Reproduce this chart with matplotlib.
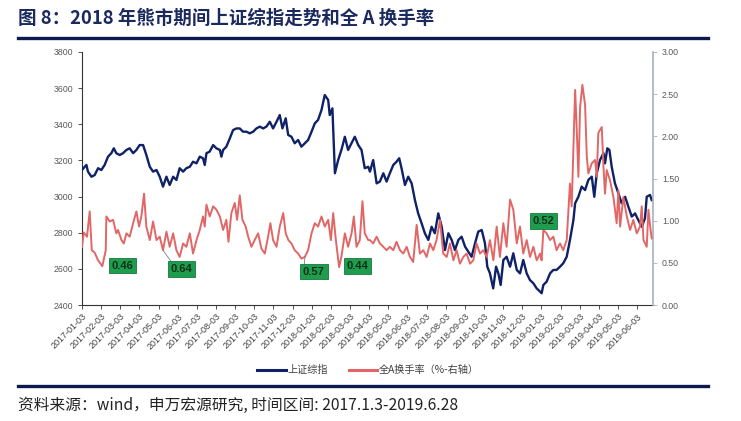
"""Recreate: 2018 bear market - SSE Composite vs all-A turnover."""

import matplotlib

matplotlib.use("Agg")
import matplotlib.pyplot as plt  # noqa: E402
from matplotlib.lines import Line2D  # noqa: E402

plt.rcParams["font.family"] = ["Liberation Sans", "Noto Sans CJK SC", "DejaVu Sans"]
CJK = ["Noto Sans CJK SC", "DejaVu Sans"]

NAVY = "#0f2167"
RED = "#e26666"
GREEN = "#1f9d4f"

TITLE = "图 8：2018 年熊市期间上证综指走势和全 A 换手率"
SOURCE = "资料来源：wind，申万宏源研究, 时间区间: 2017.1.3-2019.6.28"

# x values are months since 2017-01-03
TICK_LABELS = [
    "2017-01-03", "2017-02-03", "2017-03-03", "2017-04-03", "2017-05-03",
    "2017-06-03", "2017-07-03", "2017-08-03", "2017-09-03", "2017-10-03",
    "2017-11-03", "2017-12-03", "2018-01-03", "2018-02-03", "2018-03-03",
    "2018-04-03", "2018-05-03", "2018-06-03", "2018-07-03", "2018-08-03",
    "2018-09-03", "2018-10-03", "2018-11-03", "2018-12-03", "2019-01-03",
    "2019-02-03", "2019-03-03", "2019-04-03", "2019-05-03", "2019-06-03",
]

# 上证综指 (left axis)
sh_x = [
    0.00, 0.14, 0.23, 0.31, 0.49, 0.66, 0.84, 1.01, 1.18, 1.36, 1.53, 1.66,
    1.79, 1.97, 2.14, 2.32, 2.49, 2.67, 2.84, 3.01, 3.19, 3.36, 3.54, 3.71,
    3.89, 4.06, 4.23, 4.41, 4.58, 4.76, 4.93, 5.10, 5.28, 5.45, 5.63, 5.80,
    5.98, 6.15, 6.32, 6.41, 6.50, 6.67, 6.85, 7.02, 7.20, 7.28, 7.37, 7.54,
    7.72, 7.89, 8.07, 8.24, 8.41, 8.59, 8.76, 8.94, 9.11, 9.29, 9.46, 9.63,
    9.81, 9.98, 10.16, 10.33, 10.47, 10.64, 10.77, 10.94, 11.11, 11.29, 11.46,
    11.64, 11.81, 11.99, 12.16, 12.33, 12.51, 12.68, 12.86, 12.94, 13.08,
    13.21, 13.38, 13.55, 13.73, 13.90, 14.08, 14.25, 14.43, 14.60, 14.77,
    14.95, 15.04, 15.21, 15.39, 15.56, 15.74, 15.91, 16.08, 16.26, 16.43,
    16.57, 16.69, 16.87, 17.04, 17.22, 17.39, 17.56, 17.74, 17.91, 18.09,
    18.26, 18.43, 18.61, 18.79, 18.96, 19.14, 19.31, 19.48, 19.66, 19.83,
    20.01, 20.18, 20.35, 20.53, 20.70, 20.88, 21.05, 21.17, 21.31, 21.48,
    21.63, 21.75, 21.87, 22.01, 22.18, 22.36, 22.53, 22.71, 22.88, 23.05,
    23.23, 23.40, 23.58, 23.75, 23.93, 24.01, 24.10, 24.27, 24.45, 24.62,
    24.79, 24.97, 25.14, 25.32, 25.49, 25.67, 25.76, 25.93, 26.10, 26.28,
    26.45, 26.63, 26.76, 26.89, 27.06, 27.24, 27.32, 27.44, 27.55, 27.67,
    27.84, 28.02, 28.19, 28.37, 28.54, 28.72, 28.89, 29.06, 29.24, 29.41,
    29.50, 29.67, 29.76,
]
sh_val = [
    3147, 3165, 3175, 3138, 3110, 3119, 3157, 3147, 3175, 3221, 3240, 3267,
    3240, 3230, 3240, 3258, 3267, 3240, 3258, 3285, 3285, 3230, 3165, 3138,
    3147, 3110, 3055, 3110, 3064, 3110, 3092, 3157, 3138, 3157, 3165, 3193,
    3184, 3221, 3212, 3175, 3240, 3249, 3285, 3267, 3258, 3221, 3258, 3276,
    3322, 3368, 3377, 3377, 3359, 3359, 3350, 3359, 3377, 3387, 3377, 3387,
    3414, 3377, 3414, 3451, 3377, 3433, 3341, 3331, 3295, 3313, 3276,
    3295, 3313, 3359, 3405, 3424, 3479, 3562, 3534, 3451, 3488,
    3129, 3202, 3258, 3331, 3258, 3295, 3331, 3285, 3258, 3157,
    3165, 3138, 3202, 3073, 3083, 3129, 3083, 3129, 3175, 3193,
    3212, 3157, 3064, 3110, 3073, 2981, 2907, 2852, 2797, 2760,
    2833, 2797, 2907, 2833, 2704, 2797, 2760, 2704, 2760, 2778,
    2723, 2695, 2667, 2741, 2806, 2815, 2741, 2612, 2575, 2492,
    2612, 2575, 2511, 2649, 2667, 2612, 2686, 2594, 2575, 2649,
    2575, 2538, 2520, 2492, 2474, 2465, 2511, 2529, 2575, 2594,
    2594, 2612, 2631, 2667, 2760, 2870, 2963, 2999, 3055, 3036,
    3092, 3110, 2999, 3129, 3202, 3240, 3184, 3267, 3258, 3165,
    3073, 3018, 2963, 2999, 2944, 2889, 2907, 2870, 2833, 2880,
    2999, 3009, 2981,
]

# 全A换手率 (%, right axis)
to_x = [
    0.00, 0.09, 0.26, 0.40, 0.51, 0.66, 0.84, 1.06, 1.24, 1.27, 1.45, 1.62,
    1.79, 1.88, 2.06, 2.18, 2.32, 2.49, 2.67, 2.84, 2.98, 3.10, 3.24, 3.36,
    3.54, 3.71, 3.89, 4.06, 4.23, 4.41, 4.58, 4.76, 4.93, 5.10, 5.28, 5.45,
    5.63, 5.80, 5.98, 6.15, 6.32, 6.41, 6.50, 6.67, 6.85, 7.02, 7.20, 7.37,
    7.54, 7.65, 7.80, 7.98, 8.10, 8.24, 8.38, 8.55, 8.68, 8.85, 9.02, 9.20,
    9.37, 9.55, 9.72, 9.84, 9.98, 10.16, 10.33, 10.51, 10.64, 10.78, 10.94,
    11.11, 11.29, 11.46, 11.64, 11.81, 11.99, 12.16, 12.33, 12.51, 12.68,
    12.86, 13.00, 13.12, 13.26, 13.43, 13.55, 13.73, 13.90, 14.08, 14.20,
    14.34, 14.51, 14.65, 14.77, 14.95, 15.04, 15.21, 15.39, 15.56, 15.74,
    15.91, 16.08, 16.26, 16.43, 16.61, 16.78, 16.96, 17.13, 17.30, 17.48,
    17.65, 17.83, 18.00, 18.18, 18.35, 18.52, 18.70, 18.87, 19.05, 19.22,
    19.40, 19.57, 19.74, 19.92, 20.09, 20.27, 20.44, 20.61, 20.79, 20.96,
    21.14, 21.31, 21.49, 21.66, 21.83, 22.01, 22.18, 22.36, 22.53, 22.71,
    22.88, 23.05, 23.23, 23.40, 23.58, 23.75, 23.93, 24.01, 24.10, 24.27,
    24.45, 24.62, 24.79, 24.97, 25.14, 25.32, 25.49, 25.58, 25.76, 25.84,
    25.93, 26.02, 26.14, 26.28, 26.37, 26.45, 26.63, 26.80, 26.89, 26.97,
    27.15, 27.24, 27.32, 27.41, 27.58, 27.76, 27.93, 28.02, 28.11, 28.28,
    28.46, 28.63, 28.80, 28.98, 29.15, 29.24, 29.33, 29.50, 29.59, 29.68,
    29.76,
]
to_val = [
    0.69, 0.86, 0.81, 1.11, 0.65, 0.62, 0.53, 0.46, 0.65, 1.05, 0.99, 1.01,
    0.85, 0.89, 0.77, 0.73, 0.85, 0.81, 0.97, 1.11, 0.93, 1.05, 1.32, 0.93,
    0.77, 0.99, 0.77, 0.81, 0.65, 0.87, 0.69, 0.85, 0.65, 0.57, 0.73, 0.69,
    0.85, 0.61, 0.77, 0.89, 1.05, 0.93, 1.19, 1.05, 1.17, 1.13, 1.05, 0.89,
    1.01, 0.75, 1.09, 1.21, 1.01, 1.30, 1.01, 0.93, 0.81, 0.69, 0.77, 0.85,
    0.67, 0.61, 0.81, 0.97, 0.77, 0.69, 0.93, 1.09, 0.85, 0.77, 0.73,
    0.65, 0.61, 0.55, 0.57, 0.65, 0.85, 0.97, 0.93, 1.05, 0.93,
    1.01, 0.77, 1.09, 0.77, 0.45, 0.57, 0.85, 0.69, 0.85, 1.05,
    0.69, 0.77, 1.23, 0.85, 0.77, 0.77, 0.73, 0.81, 0.73, 0.69,
    0.65, 0.69, 0.65, 0.75, 0.65, 0.61, 0.69, 0.57, 0.51, 0.95,
    0.61, 0.65, 0.57, 0.73, 0.65, 0.77, 1.01, 0.61, 0.57, 0.73,
    0.53, 0.65, 0.49, 0.57, 0.61, 0.49, 0.53, 0.73, 0.61, 0.65,
    0.57, 0.77, 0.53, 0.93, 0.57, 0.97, 0.69, 1.25, 1.13, 0.73,
    0.93, 0.61, 0.77, 0.57, 0.69, 0.53, 0.61, 0.53, 0.89, 0.85,
    0.77, 0.81, 0.65, 0.73, 0.65, 0.77, 1.44, 1.17, 2.55, 2.11,
    1.52, 2.35, 2.61, 2.37, 1.76, 1.56, 1.68, 1.72, 1.52, 2.04,
    2.11, 1.64, 1.32, 1.60, 1.48, 1.28, 0.97, 1.36, 0.93, 1.28,
    1.05, 0.89, 1.01, 0.85, 0.93, 1.17, 0.77, 0.69, 1.13, 0.93,
    0.79,
]

# green callouts: text, box centre (x, y on right axis), optional leader start
note_text = ["0.46", "0.64", "0.57", "0.44", "0.52"]
note_x = [2.11, 5.21, 12.11, 14.39, 24.11]
note_y = [0.466, 0.427, 0.397, 0.462, 0.996]
leader_x = [None, 4.23, 11.64, None, None]
leader_y = [None, 0.65, 0.57, None, None]


def main() -> None:
    fig = plt.figure(figsize=(7.41, 4.21), dpi=100)
    ax = fig.add_axes([0.1107, 0.2755, 0.7706, 0.601])
    ax2 = ax.twinx()

    ax.plot(sh_x, sh_val, color=NAVY, linewidth=1.7, zorder=3)
    ax2.plot(to_x, to_val, color=RED, linewidth=1.4, zorder=3)

    ax.set_xlim(0, 29.83)
    ax.set_ylim(2400, 3800)
    ax.set_yticks(range(2400, 3801, 200))
    ax2.set_ylim(0, 3.0)
    ax2.set_yticks([0, 0.5, 1.0, 1.5, 2.0, 2.5, 3.0])
    ax2.set_yticklabels([f"{v:.2f}" for v in ax2.get_yticks()])

    ax.set_xticks(range(len(TICK_LABELS)))
    ax.set_xticklabels(TICK_LABELS, rotation=45, ha="right", va="top",
                       rotation_mode="anchor", fontsize=6.5, color="#404040")

    for a in (ax, ax2):
        a.spines["top"].set_visible(False)
    ax.spines["right"].set_visible(False)
    ax2.spines["left"].set_visible(False)
    ax2.spines["bottom"].set_visible(False)
    ax.spines["left"].set_color("#333333")
    ax.spines["bottom"].set_color("#333333")
    ax2.spines["right"].set_color("#a9b0bd")
    ax2.spines["right"].set_linewidth(1.2)

    ax.tick_params(axis="y", labelsize=6.3, labelcolor="#595959", length=3,
                   color="#333333", width=0.6)
    ax.tick_params(axis="x", length=3, color="#333333", width=0.6, pad=2)
    ax2.tick_params(axis="y", labelsize=6.3, labelcolor="#595959", length=3,
                    color="#a9b0bd", width=0.6)

    for t, x, y, lx, ly in zip(note_text, note_x, note_y, leader_x, leader_y):
        if lx is not None:
            ax2.plot([lx, x - 0.5], [ly, y + 0.07], color="#7f7f7f",
                     linewidth=0.6, zorder=4)
        ax2.text(x, y, t, ha="center", va="center", fontsize=8,
                 fontweight="bold", color="#10301a", zorder=5,
                 bbox=dict(boxstyle="square,pad=0.25", facecolor=GREEN,
                           edgecolor="#167a3c", linewidth=0.6))

    # title and rules
    fig.text(0.024, 0.957, TITLE, family=CJK, fontsize=13.3, fontweight="bold",
             color="#1b2a5e", ha="left", va="center")
    fig.add_artist(Line2D([0.024, 0.955], [0.91, 0.91], color="#0c1a4f",
                          linewidth=2.4))
    fig.add_artist(Line2D([0.024, 0.955], [0.083, 0.083], color="#0c1a4f",
                          linewidth=2.4))
    fig.text(0.024, 0.037, SOURCE, family=CJK, fontsize=11.3, color="#222222",
             ha="left", va="center")

    handles = [Line2D([], [], color=NAVY, linewidth=2.2),
               Line2D([], [], color=RED, linewidth=2.2)]
    fig.legend(handles, ["上证综指", "全A换手率（%-右轴）"], loc="center",
               bbox_to_anchor=(0.497, 0.121), ncol=2, frameon=False,
               prop={"family": CJK, "size": 7.3}, labelcolor="#404040",
               handlelength=2.8, handletextpad=0.2, columnspacing=2.0)

    fig.savefig("out.png", dpi=100)
    plt.close(fig)


if __name__ == "__main__":
    main()
